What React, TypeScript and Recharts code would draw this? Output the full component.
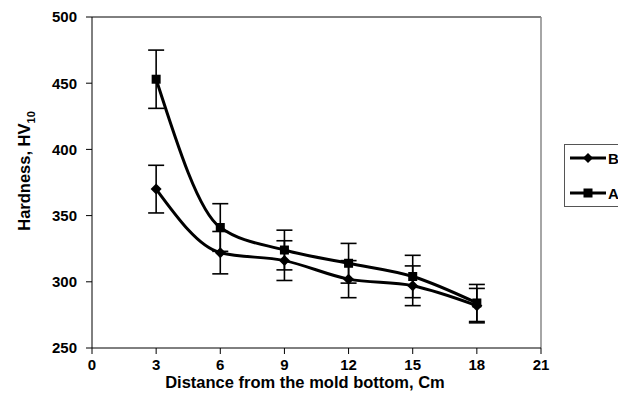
import React from "react";
import {
  LineChart,
  Line,
  XAxis,
  YAxis,
  ErrorBar,
  ReferenceLine,
} from "recharts";

// distance from the mold bottom, cm
const distance = [3, 6, 9, 12, 15, 18];
const hardnessB = [370, 322, 316, 302, 297, 282];
const errorB = [18, 16, 15, 14, 15, 13];
const hardnessA = [453, 341, 324, 314, 304, 284];
const errorA = [22, 18, 15, 15, 16, 14];

const xTicks = [0, 3, 6, 9, 12, 15, 18, 21];
const yTicks = [250, 300, 350, 400, 450, 500];

const legendItems = [
  { label: "B", marker: "diamond" },
  { label: "A", marker: "square" },
];

const data = distance.map((d, i) => ({
  distance: d,
  B: hardnessB[i],
  errB: errorB[i],
  A: hardnessA[i],
  errA: errorA[i],
}));

const FONT = "'Liberation Sans', Arial, sans-serif";

const Diamond = (props: any) => {
  const { cx, cy } = props;
  if (cx == null || cy == null) return null;
  const r = 5.5;
  return (
    <path
      d={`M${cx},${cy - r} L${cx + r},${cy} L${cx},${cy + r} L${cx - r},${cy} Z`}
      fill="#000"
    />
  );
};

const Square = (props: any) => {
  const { cx, cy } = props;
  if (cx == null || cy == null) return null;
  const r = 4.5;
  return <rect x={cx - r} y={cy - r} width={r * 2} height={r * 2} fill="#000" />;
};

const LegendBox = () => (
  <div
    style={{
      position: "absolute",
      left: 564,
      top: 144,
      width: 70,
      height: 63,
      border: "1px solid #555",
      background: "#fff",
      boxSizing: "border-box",
      paddingTop: 6,
      fontFamily: FONT,
    }}
  >
    {legendItems.map((it, i) => (
      <div
        key={it.label}
        style={{ display: "flex", alignItems: "center", height: 14, marginTop: i === 0 ? 0 : 21 }}
      >
        <svg width={38} height={12} style={{ marginLeft: 4 }}>
          <line x1={1} y1={6} x2={37} y2={6} stroke="#000" strokeWidth={3} />
          {it.marker === "diamond" ? (
            <path d="M19,1 L24,6 L19,11 L14,6 Z" fill="#000" />
          ) : (
            <rect x={14.5} y={1.5} width={9} height={9} fill="#000" />
          )}
        </svg>
        <span style={{ fontSize: 15, fontWeight: 700, marginLeft: 1 }}>{it.label}</span>
      </div>
    ))}
  </div>
);

export default function App() {
  return (
    <div style={{ position: "absolute", left: 0, top: 0, width: 618, height: 417, background: "#fff", overflow: "hidden" }}>
      <LineChart
        width={618}
        height={417}
        data={data}
        margin={{ top: 17, right: 77, left: 32, bottom: 39 }}
      >
        <XAxis
          dataKey="distance"
          type="number"
          domain={[0, 21]}
          ticks={xTicks}
          interval={0}
          height={30}
          tickSize={6}
          axisLine={{ stroke: "#000", strokeWidth: 1 }}
          tickLine={{ stroke: "#000" }}
          tick={{ fontSize: 15, fontWeight: 700, fill: "#000", fontFamily: FONT }}
          tickMargin={5}
        />
        <YAxis
          type="number"
          domain={[250, 500]}
          ticks={yTicks}
          interval={0}
          width={60}
          tickSize={6}
          axisLine={{ stroke: "#000", strokeWidth: 1 }}
          tickLine={{ stroke: "#000" }}
          tick={{ fontSize: 15, fontWeight: 700, fill: "#000", fontFamily: FONT }}
          tickMargin={9}
        />
        <ReferenceLine y={500} stroke="#000" strokeWidth={1} />
        <ReferenceLine x={21} stroke="#888" strokeWidth={1.5} />
        <Line
          type="monotone"
          dataKey="B"
          name="B"
          stroke="#000"
          strokeWidth={3}
          dot={<Diamond />}
          activeDot={false}
          isAnimationActive={false}
        >
          <ErrorBar dataKey="errB" direction="y" width={8} stroke="#000" strokeWidth={1.6} />
        </Line>
        <Line
          type="monotone"
          dataKey="A"
          name="A"
          stroke="#000"
          strokeWidth={3}
          dot={<Square />}
          activeDot={false}
          isAnimationActive={false}
        >
          <ErrorBar dataKey="errA" direction="y" width={8} stroke="#000" strokeWidth={1.6} />
        </Line>
      </LineChart>
      <LegendBox />
      <div
        style={{
          position: "absolute",
          left: 0,
          top: 373,
          width: 618,
          textAlign: "center",
          fontFamily: FONT,
          fontWeight: 700,
          fontSize: 16.5,
          color: "#000",
        }}
      >
        <span style={{ position: "relative", left: -4 }}>Distance from the mold bottom, Cm</span>
      </div>
      <div
        style={{
          position: "absolute",
          left: 26,
          top: 171,
          transform: "translate(-50%, -50%) rotate(-90deg)",
          whiteSpace: "nowrap",
          fontFamily: FONT,
          fontWeight: 700,
          fontSize: 16.5,
          color: "#000",
        }}
      >
        Hardness, HV<sub style={{ fontSize: 11 }}>10</sub>
      </div>
    </div>
  );
}
